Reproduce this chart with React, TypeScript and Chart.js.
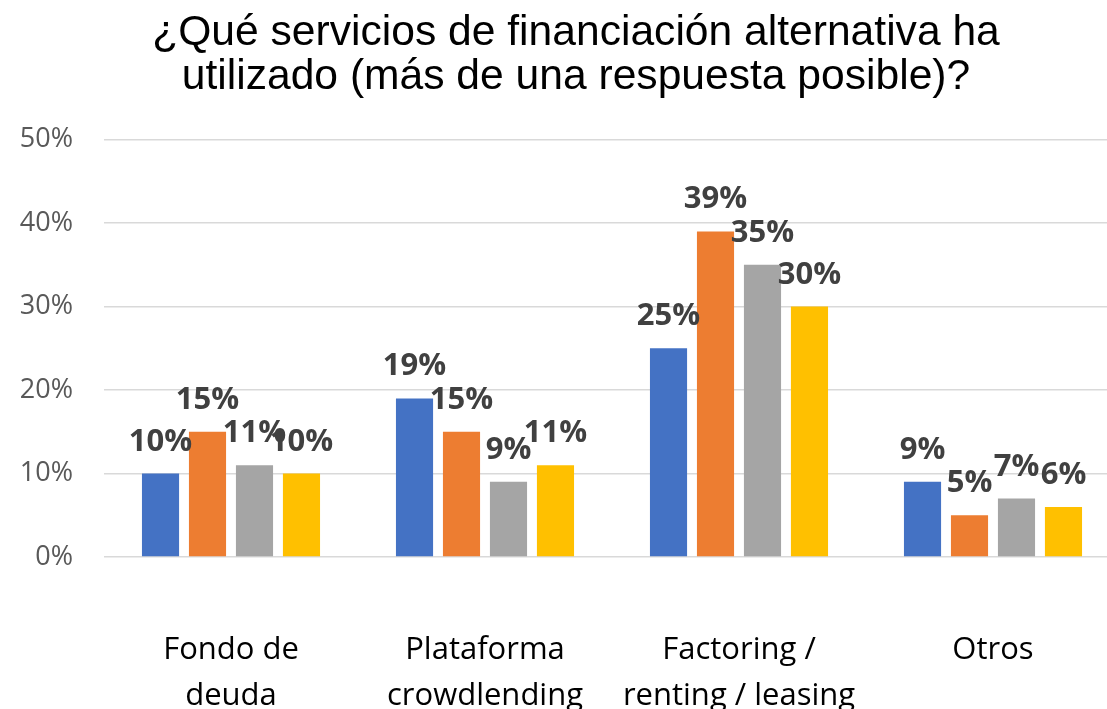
import React, { useEffect, useRef } from "react";
import { Chart, registerables } from "chart.js";

Chart.register(...registerables);

const titleLines = [
  "¿Qué servicios de financiación alternativa ha",
  "utilizado (más de una respuesta posible)?",
];
const categories = [
  ["Fondo de", "deuda"],
  ["Plataforma", "crowdlending"],
  ["Factoring /", "renting / leasing"],
  ["Otros"],
];
const seriesNames = ["Serie 1", "Serie 2", "Serie 3", "Serie 4"];
const serie1 = [10, 19, 25, 9];
const serie2 = [15, 15, 39, 5];
const serie3 = [11, 9, 35, 7];
const serie4 = [10, 11, 30, 6];
const seriesColors = ["#4472C4", "#ED7D31", "#A5A5A5", "#FFC000"];
const yMin = 0;
const yMax = 50;
const yStep = 10;

const dataLabelPlugin = {
  id: "dataLabelPlugin",
  afterDatasetsDraw(chart: any) {
    const ctx = chart.ctx;
    ctx.save();
    ctx.font = "bold 31px 'Open Sans'";
    ctx.fillStyle = "#404040";
    ctx.textAlign = "center";
    ctx.textBaseline = "alphabetic";
    chart.data.datasets.forEach((ds: any, i: number) => {
      const meta = chart.getDatasetMeta(i);
      meta.data.forEach((el: any, j: number) => {
        ctx.fillText(ds.data[j] + "%", el.x, el.y - 23);
      });
    });
    ctx.restore();
  },
};

export default function App() {
  const ref = useRef<HTMLCanvasElement | null>(null);

  useEffect(() => {
    if (!ref.current) return;
    const all = [serie1, serie2, serie3, serie4];
    const chart = new Chart(ref.current, {
      type: "bar",
      data: {
        labels: categories as any,
        datasets: all.map((d, i) => ({
          label: seriesNames[i],
          data: d,
          backgroundColor: seriesColors[i],
          borderWidth: 0,
          categoryPercentage: 0.74,
          barPercentage: 0.79,
        })),
      },
      options: {
        animation: false,
        responsive: false,
        devicePixelRatio: 1,
        layout: { padding: { left: 0, right: 0, top: 0, bottom: 0 } },
        plugins: {
          legend: { display: false },
          tooltip: { enabled: false },
          title: {
            display: true,
            text: titleLines,
            color: "#000000",
            font: { family: "'Liberation Sans', Arial, sans-serif", size: 42.6, weight: "normal", lineHeight: 1.04 },
            padding: { top: 11, bottom: 40 },
          },
        },
        scales: {
          x: {
            grid: { display: false },
            border: { display: false },
            ticks: {
              color: "#000000",
              font: { family: "'Open Sans', sans-serif", size: 31, lineHeight: 1.48 },
              padding: 62,
              maxRotation: 0,
              autoSkip: false,
            },
            afterFit: (scale: any) => {
              scale.height = 163;
            },
          },
          y: {
            min: yMin,
            max: yMax,
            grid: { color: "#D9D9D9", lineWidth: 1.5, drawTicks: false },
            border: { display: false },
            ticks: {
              stepSize: yStep,
              color: "#595959",
              font: { family: "'Open Sans', sans-serif", size: 27 },
              padding: 31,
              callback: (v: any) => v + "%",
            },
            afterFit: (scale: any) => {
              scale.width = 104;
            },
          },
          yRight: {
            position: "right",
            min: yMin,
            max: yMax,
            grid: { display: false },
            border: { display: false },
            ticks: { display: false },
            afterFit: (scale: any) => {
              scale.width = 32;
            },
          },
        },
      },
      plugins: [dataLabelPlugin],
    });
    return () => chart.destroy();
  }, []);

  return (
    <div
      style={{
        position: "fixed",
        left: 0,
        top: 0,
        width: 1107,
        height: 709,
        overflow: "hidden",
        background: "#ffffff",
      }}
    >
      <canvas ref={ref} width={1152} height={720} style={{ display: "block", width: 1152, height: 720 }} />
    </div>
  );
}
